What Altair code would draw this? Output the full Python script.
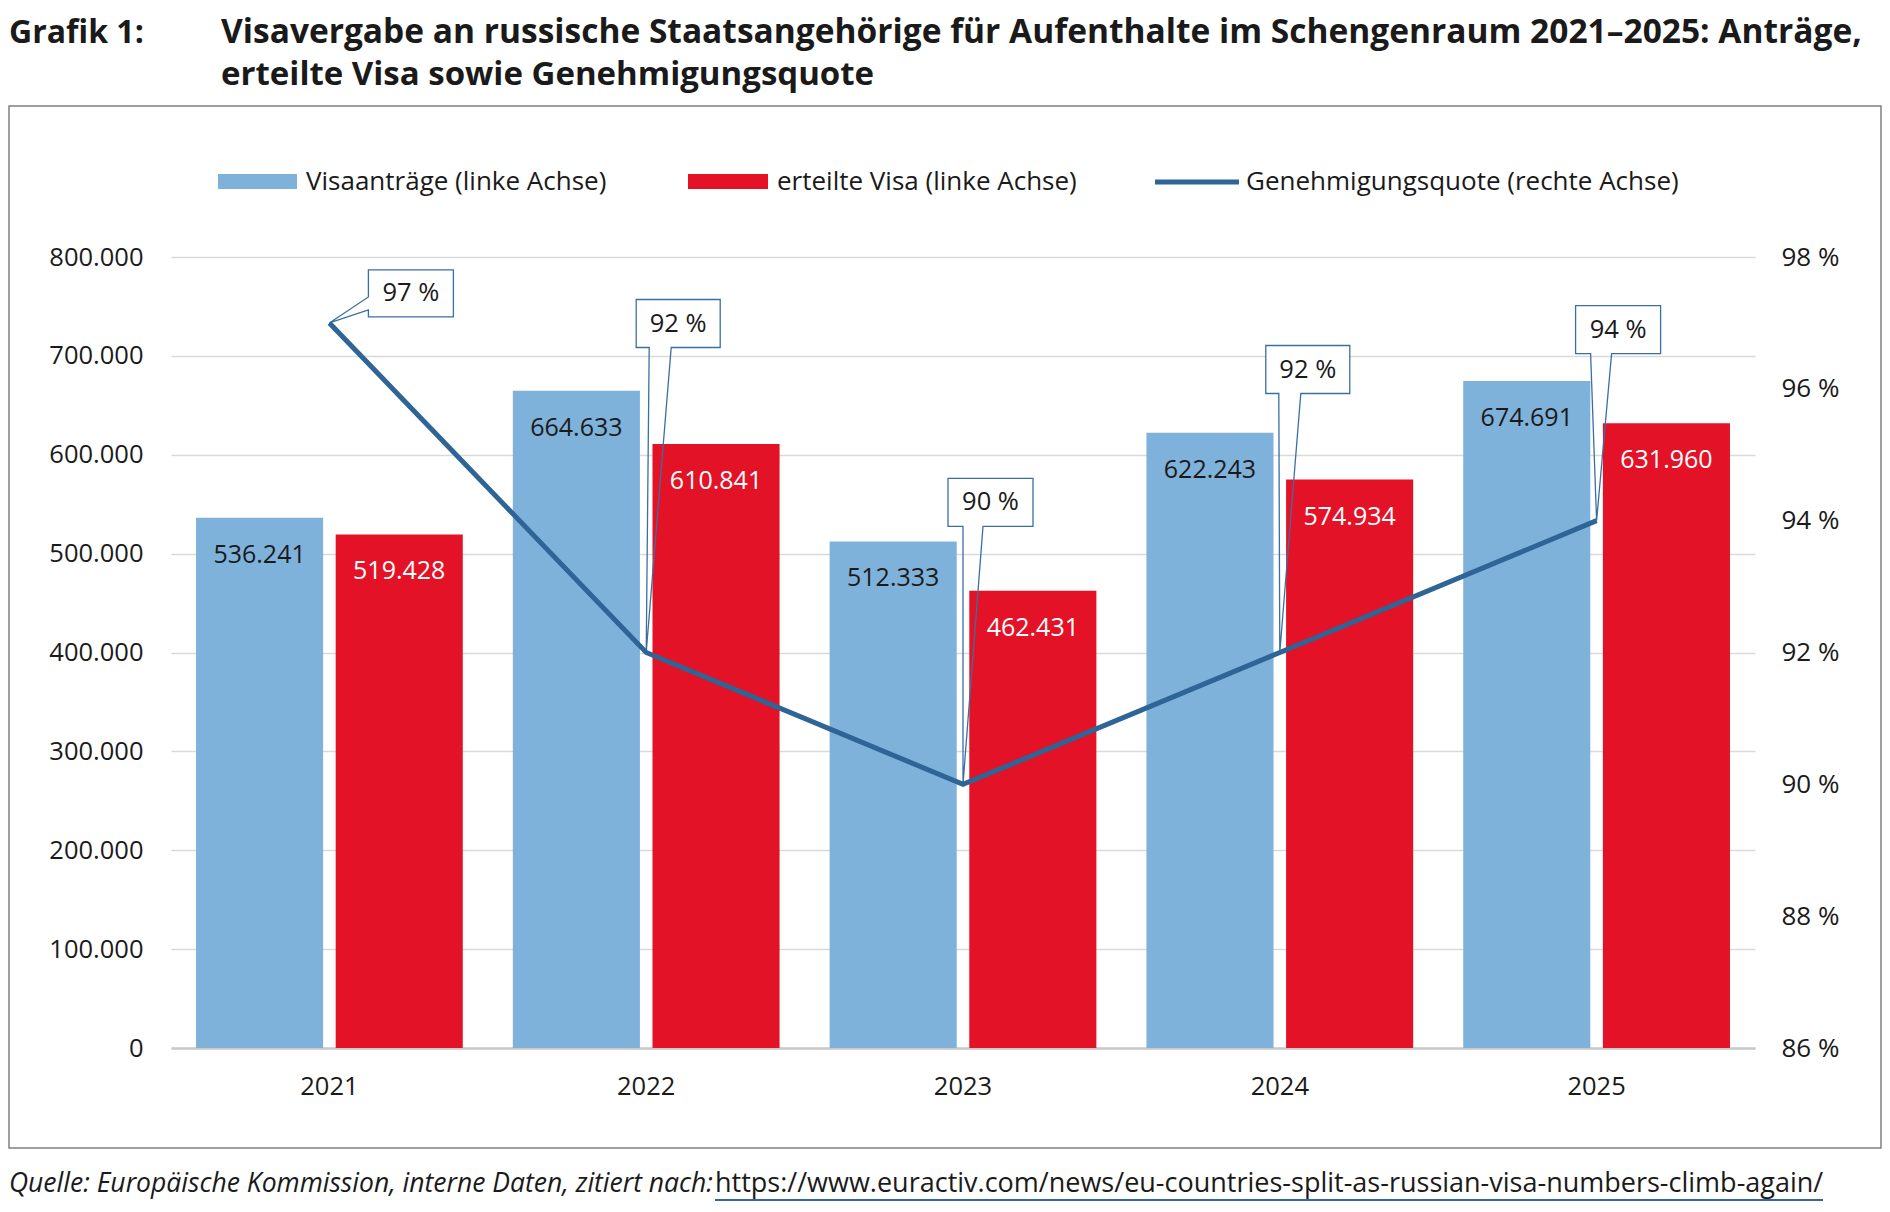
import altair as alt
import pandas as pd

# ---------------- data ----------------
YEARS = ["2021", "2022", "2023", "2024", "2025"]
ANTRAEGE = [536241, 664633, 512333, 622243, 674691]
ERTEILT = [519428, 610841, 462431, 574934, 631960]
QUOTE = [97, 92, 90, 92, 94]
SERIES = ["Visaanträge (linke Achse)", "erteilte Visa (linke Achse)"]
LINE_NAME = "Genehmigungsquote (rechte Achse)"
LEFT_TICKS = [0, 100000, 200000, 300000, 400000, 500000, 600000, 700000, 800000]
RIGHT_TICKS = [86, 88, 90, 92, 94, 96, 98]
TITLE_PREFIX = "Grafik 1:"
TITLE_LINE1 = "Visavergabe an russische Staatsangehörige für Aufenthalte im Schengenraum 2021–2025: Anträge,"
TITLE_LINE2 = "erteilte Visa sowie Genehmigungsquote"
SOURCE_ITALIC = "Quelle: Europäische Kommission, interne Daten, zitiert nach:"
SOURCE_URL = "https://www.euractiv.com/news/eu-countries-split-as-russian-visa-numbers-climb-again/"

# ---------------- style ----------------
FONT = "Open Sans"
BLUE = "#7fb2da"
RED = "#e31226"
LINE = "#2f6496"
CALLOUT = "#3a6fa3"
TXT = "#1a1a1a"

# callout geometry in px relative to the data point:
# (box left, box right, box top, box bottom, wedge a, wedge b, wedge on 'bottom' or 'left')
CALLOUT_GEOM = [
    (39, 124, -53, -6, -26, -13, "left"),
    (-10, 74, -353, -305, 3, 25, "bottom"),
    (-15, 70, -306, -258, 0, 20, "bottom"),
    (-14, 70, -307, -259, -1, 21, "bottom"),
    (-21, 64, -215, -167, -6, 15, "bottom"),
]


def de(n):
    return f"{n:,}".replace(",", ".")


def box_path(g):
    l, r, t, b, a, c, side = g
    return f"M{l},{b} L{r},{b} L{r},{t} L{l},{t} Z"


def outline_path(g):
    l, r, t, b, a, c, side = g
    if side == "left":
        return f"M0,0 L{l},{c} L{l},{b} L{r},{b} L{r},{t} L{l},{t} L{l},{a} Z"
    return f"M0,0 L{c},{b} L{r},{b} L{r},{t} L{l},{t} L{l},{b} L{a},{b} Z"


bars = pd.DataFrame(
    {
        "Jahr": YEARS * 2,
        "Reihe": [SERIES[0]] * 5 + [SERIES[1]] * 5,
        "Wert": ANTRAEGE + ERTEILT,
    }
)
bars["Label"] = bars["Wert"].apply(de)

quote = pd.DataFrame(
    {
        "Jahr": YEARS,
        "Quote": QUOTE,
        "Label": [f"{q} %" for q in QUOTE],
        "Box": [box_path(g) for g in CALLOUT_GEOM],
        "Outline": [outline_path(g) for g in CALLOUT_GEOM],
    }
)
one = pd.DataFrame({"k": [0]})

x_enc = alt.X(
    "Jahr:N",
    sort=YEARS,
    scale=alt.Scale(paddingInner=0.158, paddingOuter=0.079),
    axis=alt.Axis(
        title=None,
        labelAngle=0,
        ticks=False,
        tickSize=0,
        domain=True,
        domainColor="#c9c9c9",
        domainWidth=2.5,
        labelFont=FONT,
        labelFontSize=25.5,
        labelColor=TXT,
        labelPadding=26,
        grid=False,
    ),
)
xoff = alt.XOffset("Reihe:N", sort=SERIES, scale=alt.Scale(domain=SERIES, paddingInner=0.09))
y_left = alt.Y(
    "Wert:Q",
    scale=alt.Scale(domain=[0, 800000], nice=False),
    axis=alt.Axis(
        title=None,
        values=LEFT_TICKS,
        labelExpr="replace(format(datum.value, ','), ',', '.')",
        ticks=False,
        tickSize=0,
        domain=False,
        grid=True,
        gridColor="#d9d9d9",
        gridWidth=1.5,
        labelFont=FONT,
        labelFontSize=25.5,
        labelColor=TXT,
        labelPadding=28,
    ),
)
y_right = alt.Y(
    "Quote:Q",
    scale=alt.Scale(domain=[86, 98], nice=False, zero=False),
    axis=alt.Axis(
        title=None,
        orient="right",
        values=RIGHT_TICKS,
        labelExpr="datum.value + ' %'",
        ticks=False,
        tickSize=0,
        domain=False,
        grid=False,
        labelFont=FONT,
        labelFontSize=26,
        labelColor=TXT,
        labelPadding=26,
    ),
)


def txt(s, x, y, size, weight="normal", style="normal", color=TXT, align="left", baseline="alphabetic"):
    return alt.Chart(one).mark_text(
        text=s, font=FONT, fontSize=size, fontWeight=weight, fontStyle=style,
        color=color, align=align, baseline=baseline,
    ).encode(x=alt.value(x), y=alt.value(y))


frame = alt.Chart(one).mark_rect(fillOpacity=0, stroke="#808080", strokeWidth=1.5).encode(
    x=alt.value(-162), x2=alt.value(1710), y=alt.value(-151), y2=alt.value(891)
)
decor = [
    frame,
    txt(TITLE_PREFIX, -162, -214, 32, weight="bold"),
    txt(TITLE_LINE1, 50, -214, 33.5, weight="bold"),
    txt(TITLE_LINE2, 50, -172, 33, weight="bold"),
    alt.Chart(one).mark_rect(color=BLUE).encode(
        x=alt.value(47), x2=alt.value(126), y=alt.value(-83), y2=alt.value(-68)),
    txt(SERIES[0], 135, -75, 26, baseline="middle"),
    alt.Chart(one).mark_rect(color=RED).encode(
        x=alt.value(517), x2=alt.value(597), y=alt.value(-83), y2=alt.value(-68)),
    txt(SERIES[1], 606, -75, 26, baseline="middle"),
    alt.Chart(one).mark_rule(color=LINE, strokeWidth=5).encode(
        x=alt.value(984), x2=alt.value(1068), y=alt.value(-75)),
    txt(LINE_NAME, 1075, -75, 26, baseline="middle"),
    txt(SOURCE_ITALIC, -162, 935, 26.5, style="italic"),
    txt(SOURCE_URL, 544, 935, 27),
    alt.Chart(one).mark_rule(color="#2e6a9e", strokeWidth=2).encode(
        x=alt.value(544), x2=alt.value(1652), y=alt.value(943)),
]

bar_layer = alt.Chart(bars).mark_bar().encode(
    x=x_enc,
    xOffset=xoff,
    y=y_left,
    color=alt.Color("Reihe:N", scale=alt.Scale(domain=SERIES, range=[BLUE, RED]), legend=None),
)
lab_blue = alt.Chart(bars).transform_filter(alt.datum.Reihe == SERIES[0]).mark_text(
    font=FONT, fontSize=25, color=TXT, baseline="middle", dy=37
).encode(x=x_enc, xOffset=xoff, y=y_left, text="Label:N")
lab_red = alt.Chart(bars).transform_filter(alt.datum.Reihe == SERIES[1]).mark_text(
    font=FONT, fontSize=25, color="white", baseline="middle", dy=37
).encode(x=x_enc, xOffset=xoff, y=y_left, text="Label:N")

left = alt.layer(*decor, bar_layer, lab_blue, lab_red)

box_fill = alt.Chart(quote).mark_point(
    size=4, filled=True, fill="white", strokeWidth=0, opacity=1
).encode(x=x_enc, y=y_right, shape=alt.Shape("Box:N", scale=None))
box_line = alt.Chart(quote).mark_point(
    size=4, filled=False, fill=None, stroke=CALLOUT, strokeWidth=1.3, opacity=1
).encode(x=x_enc, y=y_right, shape=alt.Shape("Outline:N", scale=None))
line = alt.Chart(quote).mark_line(color=LINE, strokeWidth=5).encode(x=x_enc, y=y_right)

callout_texts = []
for yr, g in zip(YEARS, CALLOUT_GEOM):
    l, r, t, b = g[0], g[1], g[2], g[3]
    callout_texts.append(
        alt.Chart(quote).transform_filter(alt.datum.Jahr == yr).mark_text(
            font=FONT, fontSize=25.5, color=TXT, align="center", baseline="middle",
            dx=(l + r) / 2, dy=(t + b) / 2,
        ).encode(x=x_enc, y=y_right, text="Label:N")
    )

right = alt.layer(box_fill, box_line, line, *callout_texts)

chart = (
    alt.layer(left, right)
    .resolve_scale(y="independent")
    .properties(
        width=1584,
        height=791,
        padding={"left": 163, "top": 249, "right": 127, "bottom": 153},
        autosize=alt.AutoSizeParams(type="none"),
        background="white",
    )
    .configure_view(strokeWidth=0)
)

chart.save("out.html", embed_options={"renderer": "svg", "actions": False})
